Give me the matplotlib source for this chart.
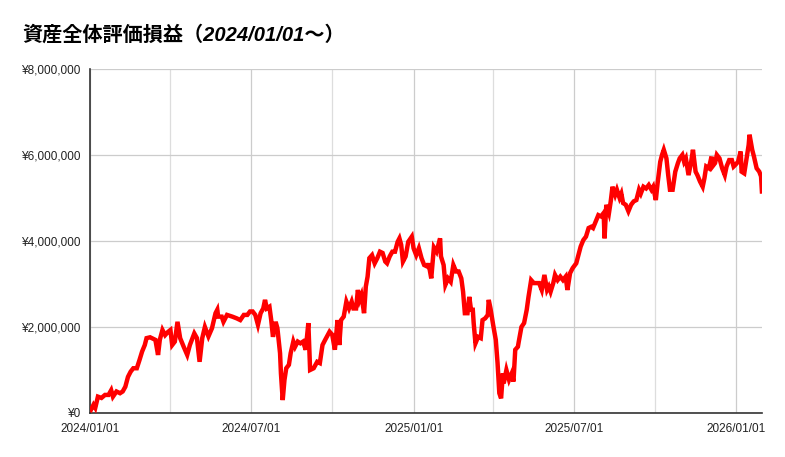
import datetime as dt
import matplotlib
matplotlib.use("Agg")
import matplotlib.pyplot as plt
import matplotlib.dates as mdates
from matplotlib.ticker import FuncFormatter, MultipleLocator

# days since 2024/01/01 and total unrealised gain (million yen)
days = [1, 4, 6, 9, 13, 17, 21, 24, 26, 30, 34, 37, 40, 43, 46, 49, 53, 56, 59, 62,
        64, 68, 72, 74, 77, 79, 82, 85, 88, 91, 93, 96, 99, 102, 106, 110, 113, 118, 121, 124,
        127, 130, 134, 138, 142, 144, 145, 149, 151, 155, 161, 166, 170, 174, 178, 181, 184, 187, 190, 193,
        196, 198, 200, 203, 205, 207, 210, 212, 215, 216, 218, 220, 222, 225, 227, 230, 232, 235, 238, 241,
        244, 247, 249, 253, 257, 260, 263, 266, 271, 274, 277, 280, 282, 284, 287, 290, 293, 296, 298, 301,
        303, 305, 307, 310, 312, 314, 316, 319, 322, 325, 328, 331, 334, 336, 339, 342, 345, 348, 350, 352,
        354, 357, 360, 364, 366, 369, 372, 375, 378, 382, 383, 386, 389, 392, 396, 397, 400, 402, 405, 408,
        411, 414, 417, 420, 422, 424, 427, 429, 431, 433, 434, 436, 439, 442, 444, 447, 450, 451, 453, 456,
        459, 461, 463, 465, 467, 468, 471, 474, 477, 479, 481, 484, 485, 488, 491, 494, 496, 499, 502, 505,
        508, 511, 514, 517, 519, 521, 524, 526, 529, 532, 535, 538, 540, 543, 546, 550, 552, 555, 558, 561,
        564, 567, 569, 572, 575, 578, 581, 582, 584, 587, 589, 591, 594, 596, 599, 601, 603, 606, 609, 612,
        615, 618, 621, 623, 626, 629, 632, 635, 637, 640, 642, 645, 647, 649, 652, 654, 656, 659, 662, 665,
        667, 670, 672, 674, 677, 680, 682, 685, 687, 690, 693, 695, 697, 700, 703, 704, 707, 709, 712, 715,
        718, 720, 723, 726, 728, 730, 733, 736, 737, 740, 742, 745, 746, 749, 751, 754, 757, 759, 760]
gain_m = [0.07, 0.19, 0.12, 0.38, 0.35, 0.42, 0.42, 0.53, 0.38, 0.50, 0.46, 0.50, 0.61, 0.84, 0.96, 1.04, 1.04, 1.23, 1.43, 1.58,
          1.74, 1.76, 1.72, 1.70, 1.35, 1.70, 1.93, 1.81, 1.88, 1.93, 1.58, 1.66, 2.12, 1.74, 1.54, 1.35, 1.58, 1.85, 1.74, 1.19,
          1.74, 2.00, 1.78, 1.97, 2.32, 2.40, 2.24, 2.24, 2.12, 2.28, 2.24, 2.20, 2.16, 2.28, 2.28, 2.36, 2.36, 2.28, 2.05, 2.32,
          2.43, 2.63, 2.43, 2.47, 2.16, 1.77, 2.12, 1.97, 1.39, 0.92, 0.30, 0.77, 1.04, 1.12, 1.39, 1.66, 1.54, 1.66, 1.62, 1.66,
          1.47, 2.09, 1.00, 1.04, 1.19, 1.16, 1.58, 1.70, 1.89, 1.82, 1.47, 2.16, 1.58, 2.16, 2.24, 2.59, 2.43, 2.59, 2.43, 2.43,
          2.86, 2.63, 2.74, 2.32, 2.94, 3.17, 3.60, 3.67, 3.48, 3.60, 3.75, 3.72, 3.52, 3.48, 3.64, 3.75, 3.75, 3.98, 4.06, 3.91,
          3.52, 3.64, 3.98, 4.10, 3.83, 3.67, 3.83, 3.60, 3.44, 3.40, 3.48, 3.13, 3.85, 3.75, 4.06, 3.64, 3.44, 2.98, 3.13, 3.05,
          3.44, 3.29, 3.29, 3.13, 2.82, 2.32, 2.32, 2.70, 2.40, 2.40, 2.09, 1.62, 1.77, 1.74, 2.16, 2.20, 2.28, 2.63, 2.43, 2.05,
          1.70, 1.16, 0.46, 0.34, 0.92, 0.69, 1.00, 0.77, 0.92, 0.73, 1.47, 1.54, 1.66, 2.00, 2.09, 2.40, 2.70, 3.09, 3.02, 3.02,
          3.02, 2.86, 3.21, 2.86, 2.94, 2.82, 3.02, 3.21, 3.09, 3.17, 3.09, 3.17, 2.86, 3.25, 3.37, 3.48, 3.64, 3.87, 4.02, 4.10,
          4.30, 4.33, 4.30, 4.45, 4.60, 4.57, 4.65, 4.06, 4.84, 4.65, 4.92, 5.26, 5.07, 5.19, 5.00, 5.10, 4.88, 4.84, 4.69, 4.84,
          4.92, 4.95, 5.19, 5.10, 5.26, 5.22, 5.30, 5.19, 5.26, 4.95, 5.34, 5.84, 6.00, 6.12, 5.92, 5.53, 5.19, 5.19, 5.61, 5.81,
          5.92, 6.00, 5.84, 5.92, 5.53, 5.84, 6.12, 5.61, 5.53, 5.38, 5.26, 5.46, 5.73, 5.69, 5.96, 5.73, 5.81, 6.00, 5.92, 5.69,
          5.53, 5.73, 5.88, 5.88, 5.73, 5.77, 5.84, 6.08, 5.61, 5.57, 5.84, 6.23, 6.47, 6.12, 5.96, 5.69, 5.61, 5.50, 5.15]

start = dt.datetime(2024, 1, 1)
dates = [start + dt.timedelta(days=d) for d in days]
values = [v * 1_000_000 for v in gain_m]

fig = plt.figure(figsize=(7.85, 4.57), dpi=100)
ax = fig.add_axes([0.1146, 0.0963, 0.856, 0.753])

ax.plot(dates, values, color="#ff0000", lw=3.2, solid_joinstyle="miter", zorder=3)

ax.set_xlim(start, start + dt.timedelta(days=760))
ax.set_ylim(0, 8_000_000)

ax.yaxis.set_major_locator(MultipleLocator(2_000_000))
ax.yaxis.set_major_formatter(FuncFormatter(lambda v, p: "¥{:,.0f}".format(v)))
ax.xaxis.set_major_locator(mdates.MonthLocator(bymonth=[1, 7]))
ax.xaxis.set_minor_locator(mdates.MonthLocator(bymonth=[4, 10]))
ax.xaxis.set_major_formatter(mdates.DateFormatter("%Y/%m/%d"))

ax.grid(True, which="major", color="#cccccc", lw=0.9)
ax.grid(True, which="minor", axis="x", color="#dddddd", lw=0.9)
ax.set_axisbelow(True)

for side in ["top", "right"]:
    ax.spines[side].set_visible(False)
ax.spines["left"].set_color("#333333")
ax.spines["bottom"].set_color("#333333")
ax.spines["left"].set_linewidth(1.2)
ax.spines["bottom"].set_linewidth(1.2)

ax.tick_params(which="both", length=0)
ax.tick_params(axis="y", pad=7)
ax.tick_params(axis="x", pad=7)
for lab in ax.get_xticklabels() + ax.get_yticklabels():
    lab.set_fontfamily("Liberation Sans")
    lab.set_fontsize(8.5)
    lab.set_color("#222222")

fig.text(0.028, 0.923, "資産全体評価損益（2024/01/01～）",
         family=["Liberation Sans", "Noto Sans CJK JP"], fontsize=14.5,
         fontweight="bold", style="italic", color="#000000", va="center", ha="left")

fig.savefig("out.png", dpi=100)
